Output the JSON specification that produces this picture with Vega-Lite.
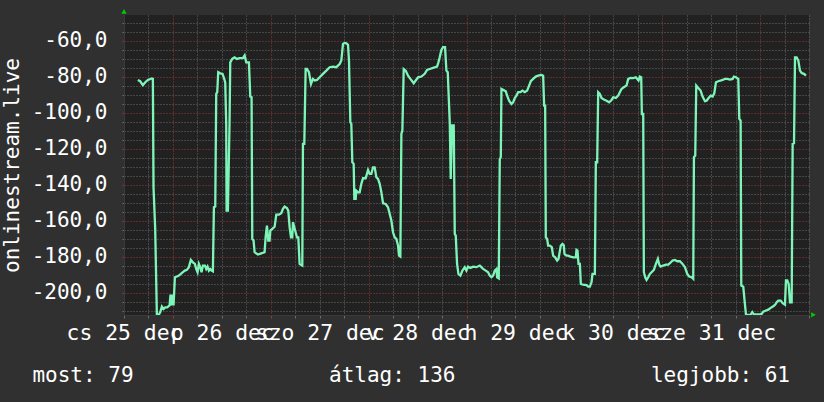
{
  "$schema": "https://vega.github.io/schema/vega-lite/v6.json",
  "width": 685,
  "height": 300,
  "autosize": {"type": "none"},
  "padding": {"left": 124, "top": 15, "right": 15, "bottom": 87},
  "background": "#303030",
  "config": {
    "view": {"fill": "#212121", "stroke": null},
    "font": "DejaVu Sans Mono"
  },
  "datasets": {
    "series": [
      {"h": 15.39, "v": -81.7}, {"h": 15.97, "v": -82.4}, {"h": 16.62, "v": -84.6}, {"h": 17.28, "v": -82.8},
      {"h": 17.85, "v": -81.7}, {"h": 18.83, "v": -80.9}, {"h": 19.08, "v": -81.1}, {"h": 19.24, "v": -141.3},
      {"h": 19.65, "v": -164.4}, {"h": 20.06, "v": -212.0}, {"h": 20.55, "v": -212.0}, {"h": 20.88, "v": -210.8},
      {"h": 21.29, "v": -207.6}, {"h": 21.70, "v": -208.9}, {"h": 22.10, "v": -208.0}, {"h": 22.59, "v": -208.0},
      {"h": 23.17, "v": -207.0}, {"h": 23.41, "v": -200.9}, {"h": 23.66, "v": -207.0}, {"h": 23.90, "v": -200.9},
      {"h": 24.15, "v": -207.0}, {"h": 24.48, "v": -191.3}, {"h": 24.97, "v": -190.9}, {"h": 25.46, "v": -190.4},
      {"h": 25.95, "v": -189.4}, {"h": 26.44, "v": -188.5}, {"h": 26.93, "v": -187.6}, {"h": 27.42, "v": -187.2},
      {"h": 27.91, "v": -185.7}, {"h": 28.40, "v": -181.7}, {"h": 28.89, "v": -183.0}, {"h": 29.39, "v": -183.9},
      {"h": 29.71, "v": -186.7}, {"h": 30.04, "v": -188.5}, {"h": 30.37, "v": -183.9}, {"h": 30.69, "v": -185.7},
      {"h": 31.02, "v": -188.5}, {"h": 31.35, "v": -184.8}, {"h": 31.84, "v": -184.8}, {"h": 32.17, "v": -186.7},
      {"h": 32.49, "v": -185.4}, {"h": 32.82, "v": -187.6}, {"h": 33.15, "v": -186.7}, {"h": 33.48, "v": -187.6},
      {"h": 33.80, "v": -188.0}, {"h": 34.05, "v": -152.4}, {"h": 34.38, "v": -152.0}, {"h": 34.62, "v": -89.4},
      {"h": 34.87, "v": -88.5}, {"h": 35.11, "v": -77.4}, {"h": 35.60, "v": -78.0}, {"h": 36.17, "v": -78.3},
      {"h": 36.58, "v": -81.1}, {"h": 36.83, "v": -83.0}, {"h": 37.07, "v": -106.1}, {"h": 37.16, "v": -154.3},
      {"h": 37.48, "v": -154.3}, {"h": 37.89, "v": -105.2}, {"h": 38.06, "v": -71.9}, {"h": 38.55, "v": -70.0},
      {"h": 39.12, "v": -69.1}, {"h": 39.69, "v": -70.0}, {"h": 40.35, "v": -69.6}, {"h": 41.17, "v": -69.6},
      {"h": 41.58, "v": -68.1}, {"h": 41.98, "v": -71.9}, {"h": 42.64, "v": -71.9}, {"h": 42.97, "v": -90.9},
      {"h": 43.29, "v": -91.3}, {"h": 43.46, "v": -170.0}, {"h": 43.78, "v": -170.9}, {"h": 44.03, "v": -177.4},
      {"h": 44.85, "v": -178.7}, {"h": 45.67, "v": -178.0}, {"h": 46.48, "v": -177.4}, {"h": 46.73, "v": -169.1},
      {"h": 47.06, "v": -162.6}, {"h": 47.38, "v": -170.9}, {"h": 47.71, "v": -170.9}, {"h": 47.88, "v": -165.4},
      {"h": 48.37, "v": -164.4}, {"h": 48.94, "v": -163.2}, {"h": 49.35, "v": -156.5}, {"h": 50.00, "v": -156.5},
      {"h": 50.57, "v": -155.7}, {"h": 50.98, "v": -153.3}, {"h": 51.39, "v": -152.0}, {"h": 51.96, "v": -152.8},
      {"h": 52.29, "v": -154.3}, {"h": 52.62, "v": -163.5}, {"h": 52.95, "v": -169.1}, {"h": 53.27, "v": -169.1},
      {"h": 53.44, "v": -160.7}, {"h": 53.77, "v": -163.5}, {"h": 54.09, "v": -166.3}, {"h": 54.42, "v": -169.1},
      {"h": 54.75, "v": -169.1}, {"h": 55.07, "v": -183.9}, {"h": 55.40, "v": -184.4}, {"h": 55.73, "v": -184.8},
      {"h": 55.89, "v": -117.2}, {"h": 56.22, "v": -117.2}, {"h": 56.55, "v": -75.6}, {"h": 56.87, "v": -75.6},
      {"h": 57.36, "v": -77.4}, {"h": 57.86, "v": -83.9}, {"h": 58.35, "v": -81.1}, {"h": 58.76, "v": -82.0},
      {"h": 59.33, "v": -81.7}, {"h": 59.98, "v": -80.2}, {"h": 60.80, "v": -78.3}, {"h": 61.62, "v": -76.5},
      {"h": 62.44, "v": -74.6}, {"h": 63.25, "v": -74.3}, {"h": 64.07, "v": -74.6}, {"h": 64.89, "v": -72.8},
      {"h": 65.30, "v": -70.9}, {"h": 65.71, "v": -61.7}, {"h": 66.12, "v": -61.1}, {"h": 66.53, "v": -61.3},
      {"h": 66.94, "v": -62.2}, {"h": 67.18, "v": -70.9}, {"h": 67.51, "v": -105.2}, {"h": 67.75, "v": -106.1},
      {"h": 68.00, "v": -127.4}, {"h": 68.33, "v": -128.3}, {"h": 68.49, "v": -147.8}, {"h": 68.82, "v": -147.8},
      {"h": 68.98, "v": -143.2}, {"h": 69.39, "v": -144.1}, {"h": 69.80, "v": -144.1}, {"h": 70.21, "v": -139.4},
      {"h": 70.62, "v": -136.3}, {"h": 71.27, "v": -136.3}, {"h": 71.85, "v": -131.7}, {"h": 72.25, "v": -133.9},
      {"h": 72.66, "v": -133.9}, {"h": 73.07, "v": -130.2}, {"h": 73.48, "v": -130.2}, {"h": 73.89, "v": -135.7},
      {"h": 74.30, "v": -136.7}, {"h": 74.71, "v": -139.4}, {"h": 75.12, "v": -144.1}, {"h": 75.53, "v": -150.2},
      {"h": 76.18, "v": -150.6}, {"h": 76.75, "v": -152.4}, {"h": 77.16, "v": -156.1}, {"h": 77.57, "v": -159.8},
      {"h": 77.98, "v": -166.3}, {"h": 78.39, "v": -169.1}, {"h": 78.80, "v": -170.0}, {"h": 79.21, "v": -173.7},
      {"h": 79.45, "v": -179.3}, {"h": 79.78, "v": -179.8}, {"h": 80.03, "v": -111.7}, {"h": 80.27, "v": -109.8},
      {"h": 80.60, "v": -75.6}, {"h": 81.09, "v": -76.5}, {"h": 81.66, "v": -79.3}, {"h": 82.24, "v": -81.1},
      {"h": 83.05, "v": -83.5}, {"h": 83.54, "v": -82.0}, {"h": 84.12, "v": -80.2}, {"h": 84.94, "v": -79.8},
      {"h": 85.75, "v": -78.3}, {"h": 86.33, "v": -76.1}, {"h": 86.98, "v": -75.6}, {"h": 87.80, "v": -75.0},
      {"h": 88.78, "v": -74.3}, {"h": 89.11, "v": -71.9}, {"h": 89.43, "v": -69.1}, {"h": 89.84, "v": -65.0},
      {"h": 90.25, "v": -63.5}, {"h": 90.74, "v": -63.5}, {"h": 91.07, "v": -76.5}, {"h": 91.40, "v": -77.4},
      {"h": 91.89, "v": -105.2}, {"h": 92.13, "v": -136.7}, {"h": 92.46, "v": -107.0}, {"h": 92.87, "v": -107.0},
      {"h": 93.12, "v": -167.2}, {"h": 93.36, "v": -168.2}, {"h": 93.69, "v": -183.9}, {"h": 94.02, "v": -189.4},
      {"h": 94.51, "v": -190.4}, {"h": 95.00, "v": -187.6}, {"h": 95.57, "v": -185.7}, {"h": 95.98, "v": -187.6},
      {"h": 96.39, "v": -185.4}, {"h": 96.96, "v": -186.1}, {"h": 97.62, "v": -185.4}, {"h": 98.43, "v": -185.7},
      {"h": 99.25, "v": -184.8}, {"h": 99.66, "v": -185.7}, {"h": 100.07, "v": -186.7}, {"h": 100.72, "v": -187.6},
      {"h": 101.30, "v": -188.5}, {"h": 101.71, "v": -190.4}, {"h": 102.12, "v": -191.3}, {"h": 102.52, "v": -190.4},
      {"h": 102.93, "v": -187.6}, {"h": 103.34, "v": -186.7}, {"h": 103.51, "v": -191.3}, {"h": 103.91, "v": -191.9},
      {"h": 104.16, "v": -125.6}, {"h": 104.41, "v": -124.6}, {"h": 104.57, "v": -86.7}, {"h": 104.98, "v": -87.2},
      {"h": 105.63, "v": -88.0}, {"h": 105.96, "v": -90.4}, {"h": 106.45, "v": -93.2}, {"h": 107.02, "v": -95.0},
      {"h": 107.43, "v": -94.1}, {"h": 107.84, "v": -91.7}, {"h": 108.25, "v": -90.4}, {"h": 108.66, "v": -88.5},
      {"h": 109.23, "v": -88.5}, {"h": 109.72, "v": -87.6}, {"h": 110.30, "v": -88.5}, {"h": 110.87, "v": -87.6},
      {"h": 111.36, "v": -84.8}, {"h": 111.77, "v": -82.4}, {"h": 112.34, "v": -81.1}, {"h": 112.99, "v": -79.8},
      {"h": 113.57, "v": -79.3}, {"h": 114.39, "v": -78.9}, {"h": 114.80, "v": -79.3}, {"h": 115.04, "v": -95.9},
      {"h": 115.29, "v": -95.9}, {"h": 115.45, "v": -169.1}, {"h": 115.78, "v": -170.0}, {"h": 116.02, "v": -173.7},
      {"h": 116.43, "v": -173.7}, {"h": 116.92, "v": -174.6}, {"h": 117.25, "v": -179.3}, {"h": 117.74, "v": -180.2},
      {"h": 118.23, "v": -182.0}, {"h": 118.56, "v": -181.1}, {"h": 119.13, "v": -173.7}, {"h": 119.54, "v": -172.8},
      {"h": 119.87, "v": -173.7}, {"h": 120.03, "v": -178.3}, {"h": 120.52, "v": -179.3}, {"h": 120.93, "v": -179.3},
      {"h": 121.50, "v": -179.8}, {"h": 122.16, "v": -180.2}, {"h": 122.81, "v": -180.2}, {"h": 122.98, "v": -176.1},
      {"h": 123.22, "v": -176.5}, {"h": 123.47, "v": -183.9}, {"h": 123.80, "v": -183.9}, {"h": 124.04, "v": -195.0},
      {"h": 124.61, "v": -195.4}, {"h": 125.43, "v": -195.6}, {"h": 125.84, "v": -196.5}, {"h": 126.25, "v": -196.5},
      {"h": 126.66, "v": -194.1}, {"h": 126.90, "v": -189.4}, {"h": 127.48, "v": -189.4}, {"h": 127.72, "v": -127.4},
      {"h": 128.05, "v": -127.4}, {"h": 128.30, "v": -88.5}, {"h": 128.70, "v": -89.4}, {"h": 129.11, "v": -91.7},
      {"h": 129.69, "v": -92.6}, {"h": 130.34, "v": -93.2}, {"h": 130.99, "v": -94.1}, {"h": 131.57, "v": -92.8},
      {"h": 131.98, "v": -91.3}, {"h": 132.63, "v": -91.7}, {"h": 133.20, "v": -90.4}, {"h": 133.61, "v": -88.5},
      {"h": 134.02, "v": -86.7}, {"h": 134.59, "v": -85.7}, {"h": 135.25, "v": -84.8}, {"h": 135.66, "v": -81.1},
      {"h": 136.23, "v": -80.6}, {"h": 136.89, "v": -80.7}, {"h": 137.54, "v": -80.2}, {"h": 137.87, "v": -81.1},
      {"h": 138.20, "v": -82.0}, {"h": 138.52, "v": -79.8}, {"h": 138.85, "v": -80.2}, {"h": 139.01, "v": -100.6},
      {"h": 139.34, "v": -100.6}, {"h": 139.50, "v": -188.5}, {"h": 139.83, "v": -191.3}, {"h": 140.16, "v": -192.8},
      {"h": 140.57, "v": -191.3}, {"h": 140.98, "v": -189.4}, {"h": 141.39, "v": -188.5}, {"h": 141.96, "v": -187.2},
      {"h": 142.45, "v": -183.9}, {"h": 142.94, "v": -181.1}, {"h": 143.27, "v": -184.3}, {"h": 143.59, "v": -185.4},
      {"h": 144.25, "v": -184.8}, {"h": 144.90, "v": -184.3}, {"h": 145.48, "v": -184.3}, {"h": 145.89, "v": -183.5},
      {"h": 146.54, "v": -182.0}, {"h": 147.11, "v": -181.7}, {"h": 147.68, "v": -182.4}, {"h": 148.34, "v": -182.4},
      {"h": 148.99, "v": -183.9}, {"h": 149.57, "v": -185.7}, {"h": 150.14, "v": -189.4}, {"h": 150.63, "v": -190.9},
      {"h": 151.20, "v": -191.3}, {"h": 151.61, "v": -192.2}, {"h": 151.78, "v": -124.6}, {"h": 152.10, "v": -123.7},
      {"h": 152.35, "v": -84.8}, {"h": 152.84, "v": -86.1}, {"h": 153.41, "v": -87.6}, {"h": 153.90, "v": -90.9},
      {"h": 154.48, "v": -93.5}, {"h": 154.88, "v": -93.2}, {"h": 155.38, "v": -91.7}, {"h": 155.87, "v": -90.4},
      {"h": 156.36, "v": -90.9}, {"h": 156.77, "v": -89.1}, {"h": 157.18, "v": -83.0}, {"h": 157.75, "v": -82.4},
      {"h": 158.32, "v": -82.0}, {"h": 158.81, "v": -81.7}, {"h": 159.38, "v": -81.1}, {"h": 159.96, "v": -81.1},
      {"h": 160.61, "v": -81.5}, {"h": 161.27, "v": -81.1}, {"h": 161.59, "v": -79.8}, {"h": 162.08, "v": -80.2},
      {"h": 162.66, "v": -81.1}, {"h": 162.90, "v": -103.3}, {"h": 163.23, "v": -104.3}, {"h": 163.39, "v": -195.9},
      {"h": 163.88, "v": -196.5}, {"h": 164.21, "v": -204.6}, {"h": 164.54, "v": -212.0}, {"h": 165.11, "v": -212.2},
      {"h": 165.68, "v": -212.0}, {"h": 166.09, "v": -210.6}, {"h": 166.50, "v": -212.0}, {"h": 167.16, "v": -212.0},
      {"h": 167.81, "v": -212.0}, {"h": 168.38, "v": -211.7}, {"h": 168.79, "v": -210.4}, {"h": 169.45, "v": -209.8},
      {"h": 170.02, "v": -209.3}, {"h": 170.59, "v": -208.3}, {"h": 171.25, "v": -207.4}, {"h": 171.74, "v": -206.5},
      {"h": 172.07, "v": -205.2}, {"h": 172.47, "v": -204.3}, {"h": 173.05, "v": -204.3}, {"h": 173.54, "v": -205.7},
      {"h": 174.11, "v": -206.5}, {"h": 174.35, "v": -193.1}, {"h": 174.68, "v": -193.1}, {"h": 175.01, "v": -195.0},
      {"h": 175.34, "v": -205.2}, {"h": 175.75, "v": -205.2}, {"h": 175.99, "v": -117.2}, {"h": 176.32, "v": -116.9},
      {"h": 176.57, "v": -69.1}, {"h": 176.97, "v": -69.1}, {"h": 177.38, "v": -70.9}, {"h": 177.79, "v": -76.5},
      {"h": 178.20, "v": -77.8}, {"h": 178.77, "v": -78.3}, {"h": 179.26, "v": -79.3}
    ]
  },
  "layer": [
    {
      "data": {"name": "series"},
      "mark": {"type": "line", "color": "#7ef5b8", "strokeWidth": 2.3, "interpolate": "linear", "clip": true},
      "encoding": {
        "x": {
          "field": "h", "type": "quantitative",
          "scale": {"domain": [12, 180], "nice": false, "zero": false},
          "axis": {
            "title": null,
            "values": [12, 18, 24, 30, 36, 42, 48, 54, 60, 66, 72, 78, 84, 90, 96, 102, 108, 114, 120, 126, 132, 138, 144, 150, 156, 162, 168, 174, 180],
            "tickCount": 200,
            "grid": true,
            "gridColor": {"condition": {"test": "indexof([24,48,72,96,120,144,168], datum.value) >= 0", "value": "#9a3838"}, "value": "#6c6c6c"},
            "gridDash": [1, 2],
            "gridWidth": 1,
            "ticks": true,
            "tickSize": 3,
            "tickColor": {"condition": {"test": "indexof([24,48,72,96,120,144,168], datum.value) >= 0", "value": "#9a3838"}, "value": "#6c6c6c"},
            "domain": true,
            "domainColor": "#3a3a3a",
            "labelOverlap": false,
            "labelFlush": false,
            "labelBound": false,
            "labelFont": "DejaVu Sans Mono",
            "labelFontSize": 21.4,
            "labelColor": "#ffffff",
            "labelPadding": 4,
            "labelExpr": "indexof([12,36,60,84,108,132,156], datum.value) >= 0 ? (['cs','p','szo','v','h','k','sze'][indexof([12,36,60,84,108,132,156], datum.value)] + ' ' + (25 + indexof([12,36,60,84,108,132,156], datum.value)) + ' dec') : ''"
          }
        },
        "y": {
          "field": "v", "type": "quantitative",
          "scale": {"domain": [-212.27, -45.6], "nice": false, "zero": false},
          "axis": {
            "title": "onlinestream.live",
            "titleFont": "DejaVu Sans Mono",
            "titleFontSize": 21,
            "titleFontWeight": "normal",
            "titleColor": "#ffffff",
            "titlePadding": 9,
            "values": [-210, -205, -200, -195, -190, -185, -180, -175, -170, -165, -160, -155, -150, -145, -140, -135, -130, -125, -120, -115, -110, -105, -100, -95, -90, -85, -80, -75, -70, -65, -60, -55, -50],
            "tickCount": 200,
            "grid": true,
            "gridColor": {"condition": {"test": "indexof([-200,-180,-160,-140,-120,-100,-80,-60], datum.value) >= 0", "value": "#9a3838"}, "value": "#6c6c6c"},
            "gridDash": [1, 2],
            "gridWidth": 1,
            "ticks": true,
            "tickSize": 2,
            "tickColor": {"condition": {"test": "indexof([-200,-180,-160,-140,-120,-100,-80,-60], datum.value) >= 0", "value": "#9a3838"}, "value": "#6c6c6c"},
            "domain": true,
            "domainColor": "#3a3a3a",
            "labelOverlap": false,
            "labelFlush": false,
            "labelBound": false,
            "labelFont": "DejaVu Sans Mono",
            "labelFontSize": 21,
            "labelColor": "#ffffff",
            "labelPadding": 15,
            "labelExpr": "indexof([-200,-180,-160,-140,-120,-100,-80,-60], datum.value) >= 0 ? ('-' + abs(datum.value) + ',0') : ''"
          }
        }
      }
    },
    {
      "data": {"values": [{"label": "most: 79"}]},
      "mark": {"type": "text", "align": "left", "baseline": "alphabetic", "font": "DejaVu Sans Mono", "fontSize": 21, "color": "#ffffff", "clip": false},
      "encoding": {"x": {"datum": -10.46, "type": "quantitative"}, "y": {"datum": -249.4, "type": "quantitative"}, "text": {"field": "label"}}
    },
    {
      "data": {"values": [{"label": "átlag: 136"}]},
      "mark": {"type": "text", "align": "center", "baseline": "alphabetic", "font": "DejaVu Sans Mono", "fontSize": 21, "color": "#ffffff", "clip": false},
      "encoding": {"x": {"datum": 77.78, "type": "quantitative"}, "y": {"datum": -249.4, "type": "quantitative"}, "text": {"field": "label"}}
    },
    {
      "data": {"values": [{"label": "legjobb: 61"}]},
      "mark": {"type": "text", "align": "right", "baseline": "alphabetic", "font": "DejaVu Sans Mono", "fontSize": 21, "color": "#ffffff", "clip": false},
      "encoding": {"x": {"datum": 175.34, "type": "quantitative"}, "y": {"datum": -249.4, "type": "quantitative"}, "text": {"field": "label"}}
    },
    {
      "data": {"values": [{"arrow": "up"}]},
      "mark": {"type": "point", "shape": "triangle-up", "filled": true, "size": 28, "color": "#00cc00", "opacity": 1, "clip": false},
      "encoding": {"x": {"datum": 12, "type": "quantitative"}, "y": {"datum": -43.6, "type": "quantitative"}}
    },
    {
      "data": {"values": [{"arrow": "right"}]},
      "mark": {"type": "point", "shape": "triangle-right", "filled": true, "size": 28, "color": "#00cc00", "opacity": 1, "clip": false},
      "encoding": {"x": {"datum": 181.1, "type": "quantitative"}, "y": {"datum": -212.2, "type": "quantitative"}}
    }
  ]
}
